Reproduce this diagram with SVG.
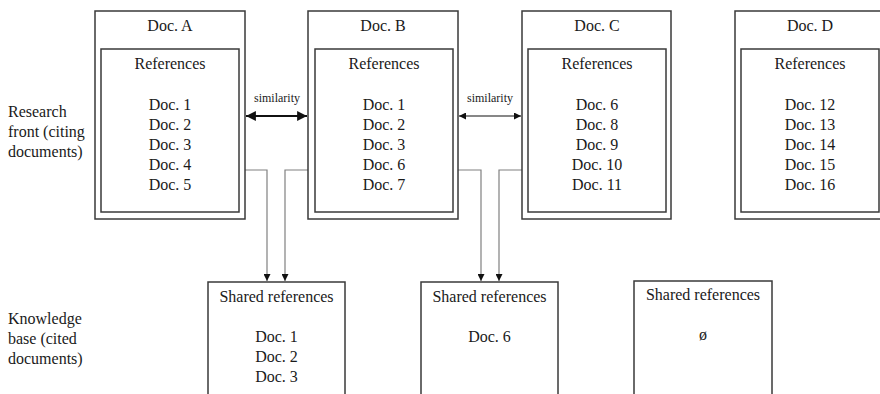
<svg xmlns="http://www.w3.org/2000/svg" width="880" height="394" viewBox="0 0 880 394">
<defs>
<style>
text{font-family:"Liberation Serif","Times New Roman",serif;fill:#1a1a1a;font-size:16px}
.c{text-anchor:middle}
.s{font-size:12px}
.box{fill:#fff;stroke:#3a3a3a;stroke-width:1.5}
.conn{fill:none;stroke:#808080;stroke-width:1.2}
.sim{fill:none;stroke:#111}
</style>
<marker id="ah" viewBox="0 0 10 10" refX="10" refY="5" markerWidth="7" markerHeight="7" markerUnits="userSpaceOnUse" orient="auto-start-reverse">
<path d="M0,0 L10,5 L0,10 z" fill="#111"/>
</marker>
<marker id="ah2" viewBox="0 0 10 10" refX="10" refY="5" markerWidth="4.5" markerHeight="4.5" orient="auto-start-reverse">
<path d="M0,0 L10,5 L0,10 z" fill="#111"/>
</marker>
</defs>
<rect width="880" height="394" fill="#fff"/>

<g id="labels">
<text x="8" y="117">Research</text>
<text x="8" y="137">front (citing</text>
<text x="8" y="157">documents)</text>
<text x="8" y="324">Knowledge</text>
<text x="8" y="344">base (cited</text>
<text x="8" y="364">documents)</text>
</g>

<g id="connectors">
<path class="conn" d="M245,170 H267 V281" marker-end="url(#ah)"/>
<path class="conn" d="M308,170 H285 V281" marker-end="url(#ah)"/>
<path class="conn" d="M458,170 H481 V281" marker-end="url(#ah)"/>
<path class="conn" d="M522,170 H499 V281" marker-end="url(#ah)"/>
<path class="sim" stroke-width="2.2" d="M246,116 H307" marker-start="url(#ah2)" marker-end="url(#ah2)"/>
<path class="sim" stroke-width="1.2" d="M459,116 H521" marker-start="url(#ah)" marker-end="url(#ah)"/>
<text class="c s" x="277" y="102">similarity</text>
<text class="c s" x="490" y="102">similarity</text>
</g>

<g id="docA">
<rect class="box" x="95" y="11" width="150" height="208"/>
<rect class="box" x="101" y="49" width="138" height="163"/>
<text class="c" x="170" y="31">Doc. A</text>
<text class="c" x="170" y="69">References</text>
<text class="c" x="170" y="110">Doc. 1</text>
<text class="c" x="170" y="130">Doc. 2</text>
<text class="c" x="170" y="150">Doc. 3</text>
<text class="c" x="170" y="170">Doc. 4</text>
<text class="c" x="170" y="190">Doc. 5</text>
</g>

<g id="docB">
<rect class="box" x="308" y="11" width="150" height="208"/>
<rect class="box" x="315" y="49" width="138" height="163"/>
<text class="c" x="383" y="31">Doc. B</text>
<text class="c" x="384" y="69">References</text>
<text class="c" x="384" y="110">Doc. 1</text>
<text class="c" x="384" y="130">Doc. 2</text>
<text class="c" x="384" y="150">Doc. 3</text>
<text class="c" x="384" y="170">Doc. 6</text>
<text class="c" x="384" y="190">Doc. 7</text>
</g>

<g id="docC">
<rect class="box" x="522" y="11" width="149" height="208"/>
<rect class="box" x="528" y="49" width="138" height="163"/>
<text class="c" x="597" y="31">Doc. C</text>
<text class="c" x="597" y="69">References</text>
<text class="c" x="597" y="110">Doc. 6</text>
<text class="c" x="597" y="130">Doc. 8</text>
<text class="c" x="597" y="150">Doc. 9</text>
<text class="c" x="597" y="170">Doc. 10</text>
<text class="c" x="597" y="190">Doc. 11</text>
</g>

<g id="docD">
<rect class="box" x="735" y="11" width="150" height="208"/>
<rect class="box" x="741" y="49" width="138" height="163"/>
<text class="c" x="810" y="31">Doc. D</text>
<text class="c" x="810" y="69">References</text>
<text class="c" x="810" y="110">Doc. 12</text>
<text class="c" x="810" y="130">Doc. 13</text>
<text class="c" x="810" y="150">Doc. 14</text>
<text class="c" x="810" y="170">Doc. 15</text>
<text class="c" x="810" y="190">Doc. 16</text>
</g>

<g id="shared1">
<rect class="box" x="208" y="282" width="137" height="130"/>
<text class="c" x="276.5" y="302">Shared references</text>
<text class="c" x="276.5" y="342">Doc. 1</text>
<text class="c" x="276.5" y="362">Doc. 2</text>
<text class="c" x="276.5" y="382">Doc. 3</text>
</g>

<g id="shared2">
<rect class="box" x="421" y="282" width="137" height="130"/>
<text class="c" x="489.5" y="302">Shared references</text>
<text class="c" x="489.5" y="342">Doc. 6</text>
</g>

<g id="shared3">
<rect class="box" x="634" y="281" width="138" height="130"/>
<text class="c" x="703" y="300">Shared references</text>
<text class="c" x="703" y="340">ø</text>
</g>
</svg>
